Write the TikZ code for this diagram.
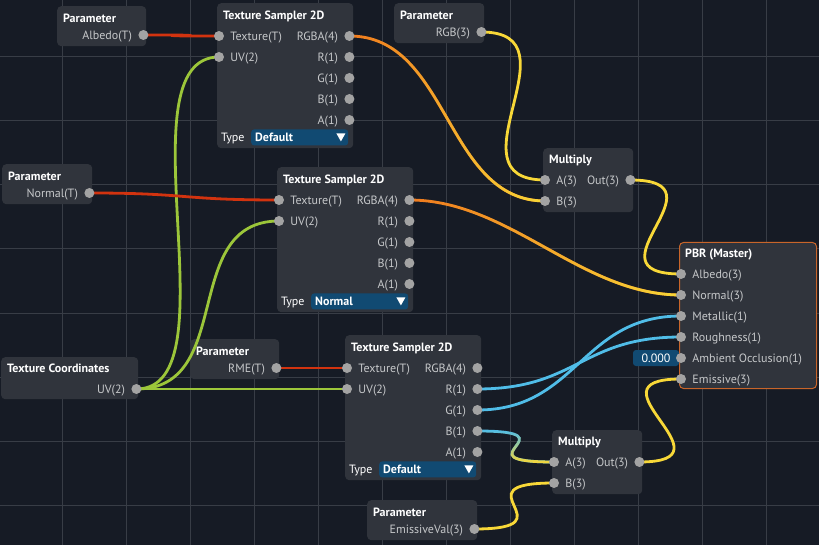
\documentclass[tikz,border=0pt]{standalone}
\usepackage{fontspec}
\setmainfont{PT Sans}
\usetikzlibrary{calc,fadings}

\definecolor{bgc}{HTML}{161B25}
\definecolor{gridc}{HTML}{383D46}
\definecolor{boxc}{HTML}{30343C}
\definecolor{portc}{HTML}{A3A3A3}
\definecolor{lblc}{HTML}{C6C8CA}
\definecolor{ddc}{HTML}{114A72}
\definecolor{pbrc}{HTML}{C8652A}
\definecolor{cred}{HTML}{D2330F}
\definecolor{corange}{HTML}{F07A1E}
\definecolor{cyellow}{HTML}{F8D838}
\definecolor{cgreen}{HTML}{9CC63A}
\definecolor{cblue}{HTML}{50BDE8}

\pgfdeclarelayer{bg}
\pgfdeclarelayer{wires}
\pgfsetlayers{bg,wires,main}

\tikzfading[name=fadeh, left color=transparent!100, right color=transparent!0]
\tikzfading[name=fadev, top color=transparent!100, bottom color=transparent!0]

\newcommand{\param}[5]{% name, x, y, width, output
\begin{pgfonlayer}{bg}
\node[nbox, minimum width=#4pt, minimum height=40pt] (#1) at (#2,#3) {};
\end{pgfonlayer}
\node[ttl] at ($(#1.north west)+(6,12)$) {Parameter};
\node[port, label={[plbl]left:#5}] (#1out) at ($(#1.north east)+(-3,29)$) {};
}

\newcommand{\mult}[3]{% name, x, y
\begin{pgfonlayer}{bg}
\node[nbox, minimum width=90pt, minimum height=64pt] (#1) at (#2,#3) {};
\end{pgfonlayer}
\node[ttl] at ($(#1.north west)+(6,11)$) {Multiply};
\node[port, label={[plbl]right:A(3)}] (#1a) at ($(#1.north west)+(2,32)$) {};
\node[port, label={[plbl]right:B(3)}] (#1b) at ($(#1.north west)+(2,53)$) {};
\node[port, label={[plbl]left:Out(3)}] (#1out) at ($(#1.north east)+(-3,32)$) {};
}

\newcommand{\sampler}[4]{% name, x, y, type
\begin{pgfonlayer}{bg}
\node[nbox, minimum width=136pt, minimum height=145pt] (#1) at (#2,#3) {};
\end{pgfonlayer}
\node[ttl] at ($(#1.north west)+(6,12)$) {Texture Sampler 2D};
\node[port, label={[plbl]right:Texture(T)}] (#1tex) at ($(#1.north west)+(2,33)$) {};
\node[port, label={[plbl]right:UV(2)}] (#1uv) at ($(#1.north west)+(2,54)$) {};
\foreach \pname/\txt [count=\i from 0] in {rgba/RGBA(4),r/R(1),g/G(1),b/B(1),a/A(1)}
  \node[port, label={[plbl]left:\txt}] (#1\pname) at ($(#1.north east)+(-4,{33+21*\i})$) {};
\node[ttl, font=\fontsize{12}{14}\selectfont] at ($(#1.south west)+(4,-11)$) {Type};
\node[dd] (#1dd) at ($(#1.south west)+(34,-11)$) {#4};
\fill[white] ($(#1dd.east)+(-12,-4)$) -- ++(9,0) -- ++(-4.5,8) -- cycle;
}

\begin{document}
\begin{tikzpicture}[x=1pt, y=-1pt, label distance=6pt,
  nbox/.style={fill=boxc, rounded corners=4pt, anchor=north west, inner sep=0},
  ttl/.style={anchor=west, inner sep=0, text height=8.6pt, text depth=0pt, text=white,
    font=\fontsize{12}{14}\selectfont\bfseries},
  plbl/.style={inner sep=0, text height=8.6pt, text depth=0pt, text=lblc, font=\fontsize{12}{14}\selectfont},
  port/.style={circle, fill=portc, minimum size=10pt, inner sep=0},
  dd/.style={fill=ddc, rounded corners=3pt, anchor=west, minimum height=16pt, text width=89pt,
    text height=8.6pt, text depth=0pt, inner xsep=4pt, inner ysep=3.7pt, align=left, text=white,
    font=\fontsize{12}{14}\selectfont\bfseries},
  gridl/.style={draw=gridc, line width=1pt},
  wire/.style={line width=2.8pt},
  wred/.style={draw=cred}, wgrn/.style={draw=cgreen}, wyel/.style={draw=cyellow}, wblu/.style={draw=cblue},
  woy/.style={draw=corange, postaction={draw=cyellow, line width=2.8pt, path fading=fadeh}},
  wby/.style={draw=cblue, postaction={draw=cyellow, line width=2.8pt, path fading=fadev}}]
\useasboundingbox (0,0) rectangle (819,545);
\begin{pgfonlayer}{bg}
\fill[bgc] (0,0) rectangle (819,545);
\foreach \i in {0,...,11} \draw[gridl] ({62+64.05*\i},0) -- ++(0,545);
\foreach \j in {0,...,7} \draw[gridl] (0,{57+64*\j}) -- ++(819,0);
\end{pgfonlayer}

\param{pa}{57}{6}{89}{Albedo(T)}
\param{prgb}{394}{3}{90}{RGB(3)}
\param{pn}{2}{164}{90}{Normal(T)}
\param{prme}{190}{339}{89}{RME(T)}
\param{pe}{367}{500}{110}{EmissiveVal(3)}

\sampler{tsa}{217}{3}{Default}
\sampler{tsn}{277}{167}{Normal}
\sampler{tsr}{345}{335}{Default}

\mult{m1}{543}{148}
\mult{m2}{552}{430}

\begin{pgfonlayer}{bg}
\node[nbox, minimum width=137pt, minimum height=42pt] (tc) at (1,357) {};
\node[nbox, draw=pbrc, line width=1pt, minimum width=137pt, minimum height=146pt] (pbr) at (679,242) {};
\end{pgfonlayer}
\node[ttl] at ($(tc.north west)+(6,11)$) {Texture Coordinates};
\node[port, label={[plbl]left:UV(2)}] (tcuv) at ($(tc.north east)+(-2,32)$) {};

\node[ttl] at ($(pbr.north west)+(6,11)$) {PBR (Master)};
\node[fill=ddc, rounded corners=3pt, minimum width=46pt, minimum height=16pt, inner sep=0,
  text=white, font=\fontsize{12}{14}\selectfont] (aoval) at (656,358) {0.000};
\foreach \pname/\txt [count=\i from 0] in {alb/Albedo(3),nrm/Normal(3),met/Metallic(1),rgh/Roughness(1),ao/Ambient Occlusion(1),em/Emissive(3)}
  \node[port, label={[plbl]right:\txt}] (pbr\pname) at ($(pbr.north west)+(2,{32+21*\i})$) {};

\begin{pgfonlayer}{wires}
\foreach \a/\b/\c in {paout/tsatex/wred, tcuv/tsauv/wgrn, tsargba/m1b/woy, prgbout/m1a/wyel,
  m1out/pbralb/wyel, pnout/tsntex/wred, tcuv/tsnuv/wgrn, tsnrgba/pbrnrm/woy,
  prmeout/tsrtex/wred, tcuv/tsruv/wgrn, tsrr/pbrrgh/wblu, tsrg/pbrmet/wblu,
  tsrb/m2a/wby, peout/m2b/wyel, m2out/pbrem/wyel}
  \draw[wire,\c] (\a.center) .. controls +(100,0) and +(-100,0) .. (\b.center);
\end{pgfonlayer}
\end{tikzpicture}
\end{document}
